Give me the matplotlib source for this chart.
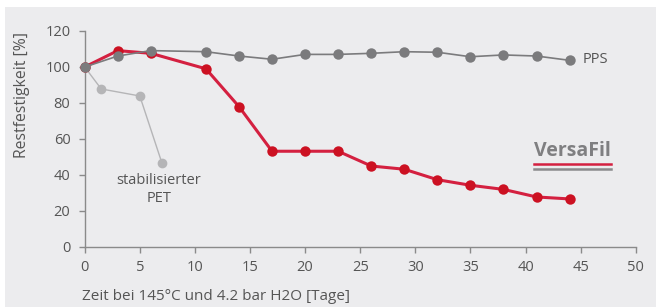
import matplotlib
matplotlib.use("Agg")
import matplotlib.pyplot as plt
from matplotlib.patches import Rectangle
from matplotlib.lines import Line2D

plt.rcParams['font.family'] = ['Open Sans', 'DejaVu Sans']

# data
pps_x = [0, 3, 6, 11, 14, 17, 20, 23, 26, 29, 32, 35, 38, 41, 44]
pps_y = [100, 106.1, 109.1, 108.5, 106.1, 104.3, 107.0, 107.0, 107.6, 108.5, 108.2, 105.7, 106.7, 106.1, 103.7]
versafil_x = [0, 3, 6, 11, 14, 17, 20, 23, 26, 29, 32, 35, 38, 41, 44]
versafil_y = [100, 109.1, 107.6, 99.0, 78.0, 53.2, 53.2, 53.2, 45.0, 43.2, 37.4, 34.3, 32.0, 27.8, 26.7]
pet_x = [0, 1.5, 5, 7]
pet_y = [100, 87.8, 83.9, 46.8]
xticks = [0, 5, 10, 15, 20, 25, 30, 35, 40, 45, 50]
yticks = [0, 20, 40, 60, 80, 100, 120]

W, H = 656, 307
fig = plt.figure(figsize=(W / 100, H / 100), dpi=100)
fig.patch.set_facecolor('white')
bg = Rectangle((5 / W, 0), 1 - 5 / W, 1 - 7 / H, transform=fig.transFigure,
               facecolor='#ececee', edgecolor='none', zorder=-10)
fig.add_artist(bg)

left, right = 84.7 / W, 635.7 / W
bottom, top = 1 - 247 / H, 1 - 31 / H
ax = fig.add_axes([left, bottom, right - left, top - bottom])
ax.set_facecolor('none')
ax.set_xlim(0, 50)
ax.set_ylim(0, 120)
for s in ['top', 'right']:
    ax.spines[s].set_visible(False)
for s in ['left', 'bottom']:
    ax.spines[s].set_color('#8a8a8a')
    ax.spines[s].set_linewidth(1.0)
ax.set_xticks(xticks)
ax.set_yticks(yticks)
ax.tick_params(axis='both', colors='#8a8a8a', labelcolor='#555555', labelsize=10.5,
               length=4.3, width=1.0, direction='out')
ax.tick_params(axis='y', pad=6)
ax.tick_params(axis='x', pad=5)

tc = '#555555'
ax.plot(pet_x, pet_y, color='#b5b5b7', lw=1.0, marker='o', ms=7, mec='none', zorder=3, clip_on=False)
ax.plot(versafil_x, versafil_y, color='#d42040', lw=2.2, marker='o', ms=7.5, mfc='#cc1122',
        mec='none', zorder=4, clip_on=False)
ax.plot(pps_x, pps_y, color='#7b7b7d', lw=1.2, marker='o', ms=7.5, mec='none', zorder=5, clip_on=False)

ax.text(45.2, 104, 'PPS', color=tc, fontsize=10.5, ha='left', va='center')
ax.text(6.75, 32, 'stabilisierter\nPET', color=tc, fontsize=10.5, ha='center', va='center',
        linespacing=1.2)

fig.text(82 / W, 1 - 297 / H, 'Zeit bei 145°C und 4.2 bar H2O [Tage]', color=tc, fontsize=11,
         ha='left', va='center')
fig.text(22 / W, 1 - 95 / H, 'Restfestigkeit [%]', color=tc, fontsize=11.3, rotation=90,
         ha='center', va='center')

# logo
fig.text(572 / W, 1 - 151 / H, 'VersaFil', color='#7f7f81', fontsize=14, fontweight='bold',
         ha='center', va='center')
fig.lines.append(Line2D([534 / W, 611 / W], [1 - 164.3 / H, 1 - 164.3 / H], transform=fig.transFigure,
                        color='#d42040', lw=1.8))
fig.lines.append(Line2D([534 / W, 611 / W], [1 - 169.3 / H, 1 - 169.3 / H], transform=fig.transFigure,
                        color='#8a8a8c', lw=1.8))

fig.savefig('out.png', dpi=100, facecolor=fig.get_facecolor())
